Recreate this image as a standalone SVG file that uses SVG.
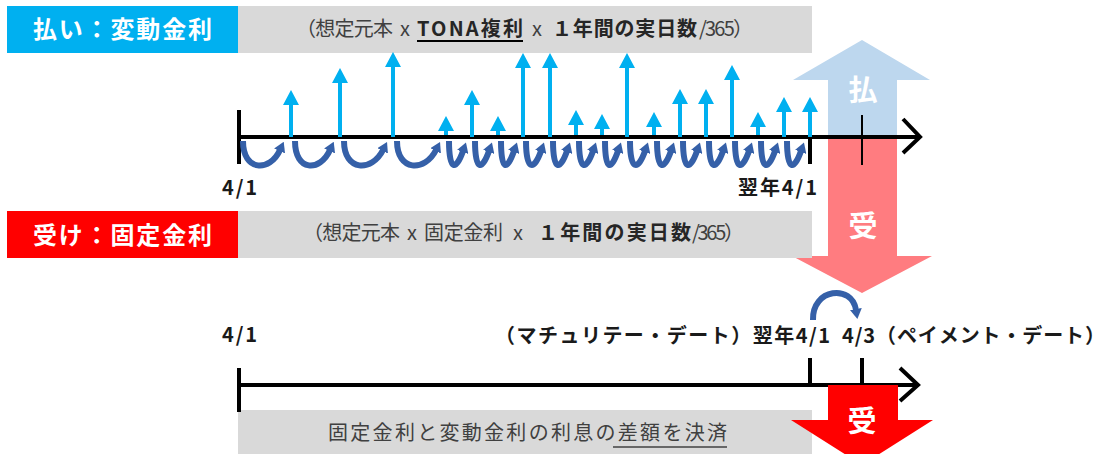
<svg xmlns="http://www.w3.org/2000/svg" width="1113" height="454" viewBox="0 0 1113 454">
<style>
.t{font-family:"Noto Sans CJK JP","Noto Sans",sans-serif;}
.hd{font-size:24px;font-weight:bold;fill:#ffffff;}
.gt{font-size:20px;fill:#404040;}
.gb{font-size:20px;fill:#262626;font-weight:bold;}
.lb{font-size:20px;font-weight:bold;fill:#1a1a1a;}
.big{font-size:29px;font-weight:bold;fill:#ffffff;text-anchor:middle;}
.ax{stroke:#000;stroke-width:4;fill:none;}
.spk{stroke:#00b0f0;stroke-width:4;marker-end:url(#sh);}
.crl{stroke:#3560a8;stroke-width:6;fill:none;marker-end:url(#ch);}
</style>
<defs>
<marker id="sh" viewBox="0 0 15 16" markerWidth="15" markerHeight="16" markerUnits="userSpaceOnUse" refX="0" refY="8" orient="auto"><path d="M0,0 L15,8 L0,16 Z" fill="#00b0f0"/></marker>
<marker id="ch" viewBox="0 0 10 12" markerWidth="10" markerHeight="12" markerUnits="userSpaceOnUse" refX="1" refY="6" orient="auto"><path d="M0,0 L10,6 L0,12 Z" fill="#3560a8"/></marker>
</defs>

<g id="hdr-pay">
<rect x="7" y="6" width="231" height="47" fill="#00b0f0"/>
<text class="t hd" x="33" y="38" textLength="179" lengthAdjust="spacing">払い：変動金利</text>
</g>
<g id="formula-pay">
<rect x="238" y="6" width="574" height="47" fill="#d9d9d9"/>
<text class="t gt" x="296" y="36" textLength="97" lengthAdjust="spacing">（想定元本</text>
<text class="t gt" x="400" y="36">x</text>
<text class="t gb" x="417" y="36" textLength="106" lengthAdjust="spacing">TONA複利</text>
<line x1="417" y1="41" x2="523" y2="41" stroke="#000" stroke-width="2"/>
<text class="t gt" x="532" y="36">x</text>
<text class="t gb" x="552" y="36" textLength="145" lengthAdjust="spacing">１年間の実日数</text>
<text class="t gt" x="699" y="36" textLength="54" lengthAdjust="spacing">/365）</text>
</g>

<g id="big-pay">
<path d="M828,137 L828,80 L793,80 L862,40 L930,80 L897,80 L897,137 Z" fill="#bdd7ee"/>
<text class="t big" x="863" y="101">払</text>
</g>
<g id="big-rcv">
<path d="M828,137 L897,137 L897,256 L932,256 L862,293 L792,256 L828,256 Z" fill="#ff7c80"/>
<text class="t big" x="863" y="237">受</text>
</g>

<g id="hdr-rcv">
<rect x="7" y="211" width="231" height="47" fill="#ff0000"/>
<text class="t hd" x="33" y="244" textLength="179" lengthAdjust="spacing">受け：固定金利</text>
</g>
<g id="formula-rcv">
<rect x="238" y="211" width="574" height="47" fill="#d9d9d9"/>
<text class="t gt" x="303" y="240" textLength="97" lengthAdjust="spacing">（想定元本</text>
<text class="t gt" x="407" y="240">x</text>
<text class="t gt" x="424" y="240" textLength="79" lengthAdjust="spacing">固定金利</text>
<text class="t gt" x="513" y="240">x</text>
<text class="t gb" x="538" y="240" textLength="153" lengthAdjust="spacing">１年間の実日数</text>
<text class="t gt" x="692" y="240" textLength="52" lengthAdjust="spacing">/365）</text>
</g>

<g id="timeline-top">
<line class="ax" x1="237" y1="137" x2="920" y2="137"/>
<polyline class="ax" points="903,119 920,137 903,153"/>
<line class="ax" x1="239" y1="110" x2="239" y2="164"/>
<line class="ax" x1="810" y1="137" x2="810" y2="164"/>
<line x1="862" y1="115" x2="862" y2="165" stroke="#000" stroke-width="2"/>
<text class="t lb" x="222" y="195" textLength="35" lengthAdjust="spacing">4/1</text>
<text class="t lb" x="738" y="195" textLength="79" lengthAdjust="spacing">翌年4/1</text>
</g>

<g id="connectors">
<line class="spk" x1="291" y1="137" x2="291" y2="105"/>
<line class="spk" x1="340" y1="137" x2="340" y2="83"/>
<line class="spk" x1="393" y1="137" x2="393" y2="67"/>
<line class="spk" x1="446" y1="135" x2="446" y2="131"/>
<line class="spk" x1="472" y1="137" x2="472" y2="105"/>
<line class="spk" x1="498" y1="135" x2="498" y2="131"/>
<line class="spk" x1="523" y1="137" x2="523" y2="68"/>
<line class="spk" x1="550" y1="137" x2="550" y2="68"/>
<line class="spk" x1="576" y1="135" x2="576" y2="125"/>
<line class="spk" x1="602" y1="135" x2="602" y2="129"/>
<line class="spk" x1="627" y1="137" x2="627" y2="68"/>
<line class="spk" x1="654" y1="135" x2="654" y2="127"/>
<line class="spk" x1="680" y1="137" x2="680" y2="104"/>
<line class="spk" x1="706" y1="137" x2="706" y2="104"/>
<line class="spk" x1="732" y1="137" x2="732" y2="80"/>
<line class="spk" x1="758" y1="135" x2="758" y2="127"/>
<line class="spk" x1="784" y1="137" x2="784" y2="112"/>
<line class="spk" x1="810" y1="137" x2="810" y2="112"/>

<path class="crl" d="M243,141 C243,172 270,172 280,150"/>
<path class="crl" d="M295,141 C295,172 320,172 330,150"/>
<path class="crl" d="M344,141 C344,172 372,172 383,150"/>
<path class="crl" d="M397,141 C397,172 425,172 436,150"/>
<path class="crl" d="M449,141 C449,171 456,171 463,151"/>
<path class="crl" d="M475,141 C475,171 482,171 489,151"/>
<path class="crl" d="M501,141 C501,171 507,171 514,151"/>
<path class="crl" d="M526,141 C526,171 534,171 541,151"/>
<path class="crl" d="M553,141 C553,171 560,171 567,151"/>
<path class="crl" d="M579,141 C579,171 586,171 593,151"/>
<path class="crl" d="M605,141 C605,171 611,171 618,151"/>
<path class="crl" d="M630,141 C630,171 638,171 645,151"/>
<path class="crl" d="M657,141 C657,171 664,171 671,151"/>
<path class="crl" d="M683,141 C683,171 690,171 697,151"/>
<path class="crl" d="M709,141 C709,171 716,171 723,151"/>
<path class="crl" d="M735,141 C735,171 742,171 749,151"/>
<path class="crl" d="M761,141 C761,171 768,171 775,151"/>
<path class="crl" d="M787,141 C787,171 794,171 801,151"/>

<path class="crl" d="M813,320 C812,288 852,284 856,310"/>
</g>

<g id="labels-bottom">
<text class="t lb" x="222" y="342" textLength="35" lengthAdjust="spacing">4/1</text>
<text class="t lb" x="495" y="343" textLength="335" lengthAdjust="spacing">（マチュリテー・デート）翌年4/1</text>
<text class="t lb" x="842" y="343" textLength="263" lengthAdjust="spacing">4/3（ペイメント・デート）</text>
</g>

<g id="settle">
<rect x="238" y="410" width="574" height="44" fill="#d9d9d9"/>
<text class="t gt" x="328" y="440" textLength="399" lengthAdjust="spacing">固定金利と変動金利の利息の差額を決済</text>
<line x1="613" y1="447" x2="727" y2="447" stroke="#404040" stroke-width="1.5"/>
</g>

<g id="timeline-bottom">
<line class="ax" x1="237" y1="385" x2="918" y2="385"/>
<polyline class="ax" points="900,368 918,385 900,401"/>
<line class="ax" x1="239" y1="368" x2="239" y2="412"/>
<line class="ax" x1="810" y1="358" x2="810" y2="385"/>
<line class="ax" x1="862" y1="358" x2="862" y2="385"/>
</g>

<g id="big-rcv-net">
<path d="M828,385 L898,385 L898,420 L933,420 L862,465 L791,420 L828,420 Z" fill="#ff0000"/>
<text class="t big" x="862" y="432">受</text>
</g>
</svg>
